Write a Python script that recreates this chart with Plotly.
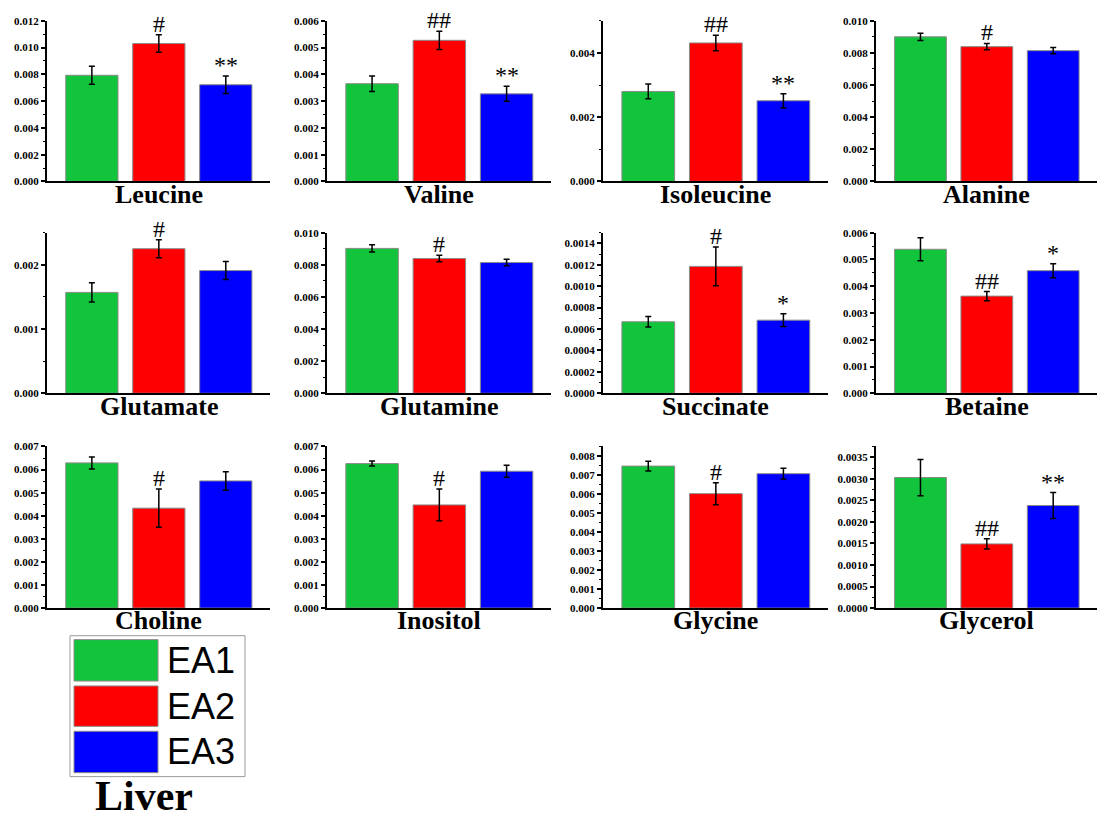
import plotly.graph_objects as go

# Liver metabolite levels for three groups (mean and SD)
metabolites = ["Leucine", "Valine", "Isoleucine", "Alanine",
               "Glutamate", "Glutamine", "Succinate", "Betaine",
               "Choline", "Inositol", "Glycine", "Glycerol"]
groups = ["EA1", "EA2", "EA3"]

ea1 = [0.00793, 0.00365, 0.00280, 0.00900, 0.00157, 0.00902, 0.000668, 0.00538, 0.00629, 0.00626, 0.00747, 0.00303]
ea1_sd = [0.00068, 0.00029, 0.00023, 0.00023, 0.00015, 0.00022, 0.00005, 0.00043, 0.00026, 0.00011, 0.00026, 0.00042]
ea2 = [0.01030, 0.00527, 0.00431, 0.00839, 0.00225, 0.00839, 0.001185, 0.00363, 0.00433, 0.00447, 0.00602, 0.00149]
ea2_sd = [0.00065, 0.00034, 0.00024, 0.00020, 0.00014, 0.00020, 0.00018, 0.00017, 0.00083, 0.00069, 0.00058, 0.00012]
ea3 = [0.00722, 0.00327, 0.00251, 0.00814, 0.00191, 0.00814, 0.000683, 0.00458, 0.00551, 0.00593, 0.00707, 0.00238]
ea3_sd = [0.00066, 0.00028, 0.00022, 0.00020, 0.00014, 0.00020, 0.00006, 0.00026, 0.00040, 0.00026, 0.00028, 0.00030]

ea2_sig = ["#", "##", "##", "#", "#", "#", "#", "##", "#", "#", "#", "##"]
ea3_sig = ["**", "**", "**", "", "", "", "*", "*", "", "", "", "**"]

y_max = [0.012, 0.006, 0.005, 0.010, 0.0025, 0.010, 0.0015, 0.006, 0.007, 0.007, 0.0085, 0.00375]
y_step = [0.002, 0.001, 0.002, 0.002, 0.001, 0.002, 0.0002, 0.001, 0.001, 0.001, 0.001, 0.0005]
y_fmt = [".3f", ".3f", ".3f", ".3f", ".3f", ".3f", ".4f", ".3f", ".3f", ".3f", ".3f", ".4f"]

colors = ["#12C33C", "#FF0000", "#0000FF"]

W, H = 1097, 825
col_px = [(47, 270), (327, 551), (603, 828), (876, 1097)]
row_px = [(15, 178), (230, 393), (447, 611)]

SERIF = "Liberation Serif, Times New Roman, serif"
SANS = "Liberation Sans, Arial, sans-serif"

fig = go.Figure()
layout = dict(width=W, height=H, margin=dict(l=0, r=0, t=0, b=0),
              plot_bgcolor="white", paper_bgcolor="white", showlegend=False)
annotations = []

for i, name in enumerate(metabolites):
    r, c = divmod(i, 4)
    k = "" if i == 0 else str(i + 1)
    xa, ya = "x" + k, "y" + k
    x0, x1 = col_px[c]
    top, bot = row_px[r]
    vals = [ea1[i], ea2[i], ea3[i]]
    sds = [ea1_sd[i], ea2_sd[i], ea3_sd[i]]
    fig.add_trace(go.Bar(
        x=[0, 1, 2], y=vals, width=0.78, xaxis=xa, yaxis=ya,
        marker=dict(color=colors, line=dict(color="#8a8a8a", width=1)),
        error_y=dict(type="data", array=sds, visible=True,
                     color="black", thickness=1.5, width=3),
        hoverinfo="skip"))
    layout["xaxis" + k] = dict(
        domain=[x0 / W, x1 / W], anchor=ya, range=[-0.67, 2.66],
        showticklabels=False, ticks="", showgrid=False, zeroline=False,
        showline=True, linecolor="black", linewidth=2, fixedrange=True)
    layout["yaxis" + k] = dict(
        domain=[1 - bot / H, 1 - top / H], anchor=xa, range=[0, y_max[i]],
        tick0=0, dtick=y_step[i], tickformat=y_fmt[i],
        ticks="outside", ticklen=4, tickwidth=1.5, tickcolor="black",
        minor=dict(dtick=y_step[i] / 2, tick0=0, ticks="outside", ticklen=2.5,
                   tickwidth=1, tickcolor="black"),
        tickfont=dict(family=SERIF, size=11, color="black", weight="bold"),
        showgrid=False, zeroline=False, showline=True, linecolor="black",
        linewidth=2, fixedrange=True)
    # metabolite name under the panel
    annotations.append(dict(
        text=name, xref=xa, x=1, yref=ya + " domain", y=-13 / (bot - top),
        xanchor="center", yanchor="middle", showarrow=False,
        font=dict(family=SERIF, size=26, color="black", weight="bold")))
    # significance markers
    for g, mark in ((1, ea2_sig[i]), (2, ea3_sig[i])):
        if mark:
            annotations.append(dict(
                text=mark, xref=xa, x=g, yref=ya, y=vals[g] + sds[g],
                xanchor="center", yanchor="bottom", yshift=-4, showarrow=False,
                font=dict(family=SERIF, size=24, color="black")))

# group key in the lower-left corner
shapes = [dict(type="rect", xref="paper", yref="paper",
               x0=70 / W, x1=245 / W, y0=1 - 782 / H, y1=1 - 639 / H,
               line=dict(color="#9a9a9a", width=1), fillcolor="rgba(0,0,0,0)")]
key_rows = [(643, 685), (690, 731), (736, 778)]
for (t, b), col, g in zip(key_rows, colors, groups):
    shapes.append(dict(type="rect", xref="paper", yref="paper",
                       x0=74 / W, x1=158 / W, y0=1 - b / H, y1=1 - t / H,
                       line=dict(color="#8a8a8a", width=1), fillcolor=col))
    annotations.append(dict(
        text=g, xref="paper", yref="paper", x=165 / W, y=1 - (t + b) / 2 / H,
        xanchor="left", yanchor="middle", showarrow=False,
        font=dict(family=SANS, size=36, color="black")))

annotations.append(dict(
    text="Liver", xref="paper", yref="paper", x=144 / W, y=0,
    xanchor="center", yanchor="bottom", yshift=-2, showarrow=False,
    font=dict(family=SERIF, size=42, color="black", weight="bold")))

layout["annotations"] = annotations
layout["shapes"] = shapes
fig.update_layout(**layout)
fig.write_html("out.html")
